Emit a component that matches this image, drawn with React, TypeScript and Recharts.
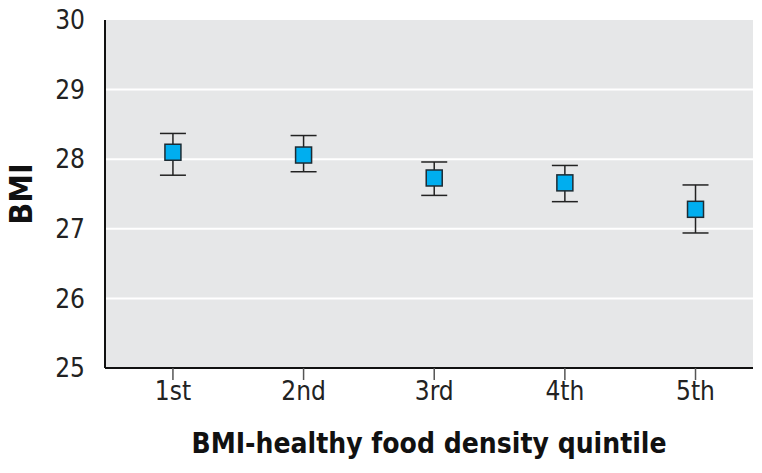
import {
  ScatterChart,
  Scatter,
  XAxis,
  YAxis,
  CartesianGrid,
  ErrorBar,
} from 'recharts'

const quintiles = ['1st', '2nd', '3rd', '4th', '5th']
const bmiMean = [28.1, 28.06, 27.73, 27.66, 27.28]
const ciLower = [27.77, 27.82, 27.48, 27.39, 26.94]
const ciUpper = [28.37, 28.34, 27.96, 27.91, 27.63]
const yTicks = [25, 26, 27, 28, 29, 30]

const FONT = "'Liberation Sans Narrow', 'DejaVu Sans Condensed', 'Roboto Condensed', sans-serif"

const data = quintiles.map((q, i) => ({
  x: i + 1,
  label: q,
  bmi: bmiMean[i],
  err: [bmiMean[i] - ciLower[i], ciUpper[i] - bmiMean[i]],
}))

// square marker drawn over the error bar
function SquareMarker(props: { cx?: number; cy?: number }) {
  const { cx = 0, cy = 0 } = props
  const s = 16
  return (
    <rect
      x={cx - s / 2}
      y={cy - s / 2}
      width={s}
      height={s}
      fill="#00aeef"
      stroke="#1d2b33"
      strokeWidth={1.5}
    />
  )
}

export default function App() {
  return (
    <div style={{ position: 'absolute', left: 0, top: 0, background: '#fff' }}>
      <ScatterChart
        width={762}
        height={473}
        margin={{ top: 20, right: 9, left: 0, bottom: 0 }}
      >
        <CartesianGrid
          vertical={false}
          fill="#e6e7e8"
          stroke="#ffffff"
          strokeWidth={2}
          horizontalValues={[26, 27, 28, 29]}
        />
        <XAxis
          type="number"
          dataKey="x"
          domain={[0.48, 5.44]}
          ticks={[1, 2, 3, 4, 5]}
          tickFormatter={(v: number) => quintiles[v - 1] ?? ''}
          axisLine={{ stroke: '#111', strokeWidth: 2 }}
          tickLine={{ stroke: '#555', strokeWidth: 1.5 }}
          tickSize={12}
          tick={{ fill: '#222', fontSize: 26, fontFamily: FONT }}
          height={105}
          allowDataOverflow
          label={{
            value: 'BMI-healthy food density quintile',
            position: 'insideBottom',
            offset: 20,
            style: { fill: '#111', fontSize: 28, fontWeight: 'bold', fontFamily: FONT },
          }}
        />
        <YAxis
          type="number"
          dataKey="bmi"
          domain={[25, 30]}
          ticks={yTicks}
          axisLine={{ stroke: '#111', strokeWidth: 2 }}
          tickLine={false}
          tickMargin={14}
          tick={{ fill: '#222', fontSize: 26, fontFamily: FONT }}
          width={105}
          label={{
            value: 'BMI',
            angle: -90,
            position: 'insideLeft',
            offset: 21,
            style: { fill: '#111', fontSize: 32, fontWeight: 'bold', fontFamily: FONT, textAnchor: 'middle' },
          }}
        />
        <Scatter data={data} shape={<SquareMarker />} isAnimationActive={false}>
          <ErrorBar dataKey="err" direction="y" width={13} stroke="#222" strokeWidth={1.5} />
        </Scatter>
      </ScatterChart>
    </div>
  )
}
